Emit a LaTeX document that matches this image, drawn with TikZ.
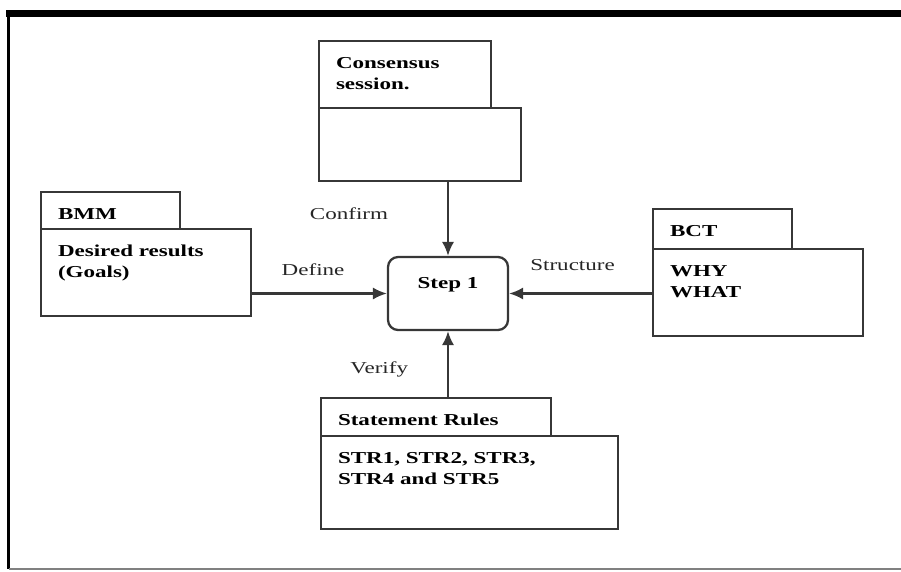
\documentclass[tikz,border=0pt]{standalone}
\usepackage{fontspec}
\setmainfont{Liberation Serif}[FakeStretch=1.38]
\usetikzlibrary{arrows.meta, positioning}
\definecolor{boxgray}{RGB}{55,55,55}
\newcommand{\boxtext}[3]{\parbox[t][#2][t]{#1}{\raggedright\leftskip=9.6pt\vspace*{6.9pt}\strut #3}}

\begin{document}
\begin{tikzpicture}[x=0.02cm, y=-0.02cm,
    pkg/.style={draw=boxgray, line width=1.3pt, inner sep=0pt, anchor=north west, font=\fontsize{9.5}{12}\selectfont\bfseries},
    flow/.style={-{Latex[length=8pt,width=7pt]}, draw=boxgray, line width=1.3pt},
    lbl/.style={font=\fontsize{9.5}{12}\selectfont, text=black!85}]
    \useasboundingbox (0,0) rectangle (901,571);
    % Frame
    \draw[line width=3.5pt] (6,13.5) -- (901,13.5);
    \draw[line width=1.7pt] (8.5,12) -- (8.5,569);
    \draw[gray, line width=0.6pt] (8.5,569) -- (901,569);
    % Consensus session
    \node[pkg] (consensustab) at (318,40) {\boxtext{3.44cm}{1.34cm}{Consensus\\session.}};
    \node[pkg] (consensusbody) at (318,107) {\boxtext{4.04cm}{1.46cm}{}};
    % BMM
    \node[pkg] (bmmtab) at (40,191) {\boxtext{2.78cm}{0.74cm}{BMM}};
    \node[pkg] (bmmbody) at (40,228) {\boxtext{4.2cm}{1.74cm}{Desired results\\(Goals)}};
    % BCT
    \node[pkg] (bcttab) at (652,208) {\boxtext{2.78cm}{0.8cm}{BCT}};
    \node[pkg] (bctbody) at (652,248) {\boxtext{4.2cm}{1.74cm}{WHY\\WHAT}};
    % Statement rules
    \node[pkg] (rulestab) at (320,397) {\boxtext{4.6cm}{0.76cm}{Statement Rules}};
    \node[pkg] (rulesbody) at (320,435) {\boxtext{5.94cm}{1.86cm}{STR1, STR2, STR3,\\STR4 and STR5}};
    % Step
    \node[draw=boxgray, line width=1.3pt, rounded corners=0.2cm, minimum width=2.4cm, inner ysep=0pt,
          text height=0.62cm, text depth=0.84cm, font=\fontsize{9.5}{12}\selectfont\bfseries] (step1) at (448,293.5) {Step 1};
    % Arrows
    \draw[flow] (consensusbody.south -| step1.north) -- (step1.north) node[lbl, midway, anchor=base east, xshift=-1.06cm] {Confirm};
    \draw[flow] (bmmbody.east |- step1.west) -- (step1.west) node[lbl, midway, anchor=base, xshift=-0.13cm, yshift=0.37cm] {Define};
    \draw[flow] (bctbody.west |- step1.east) -- (step1.east) node[lbl, midway, anchor=base, xshift=-0.16cm, yshift=0.47cm] {Structure};
    \draw[flow] (rulestab.north -| step1.south) -- (step1.south) node[lbl, midway, anchor=base east, xshift=-0.66cm, yshift=-0.19cm] {Verify};
\end{tikzpicture}
\end{document}
